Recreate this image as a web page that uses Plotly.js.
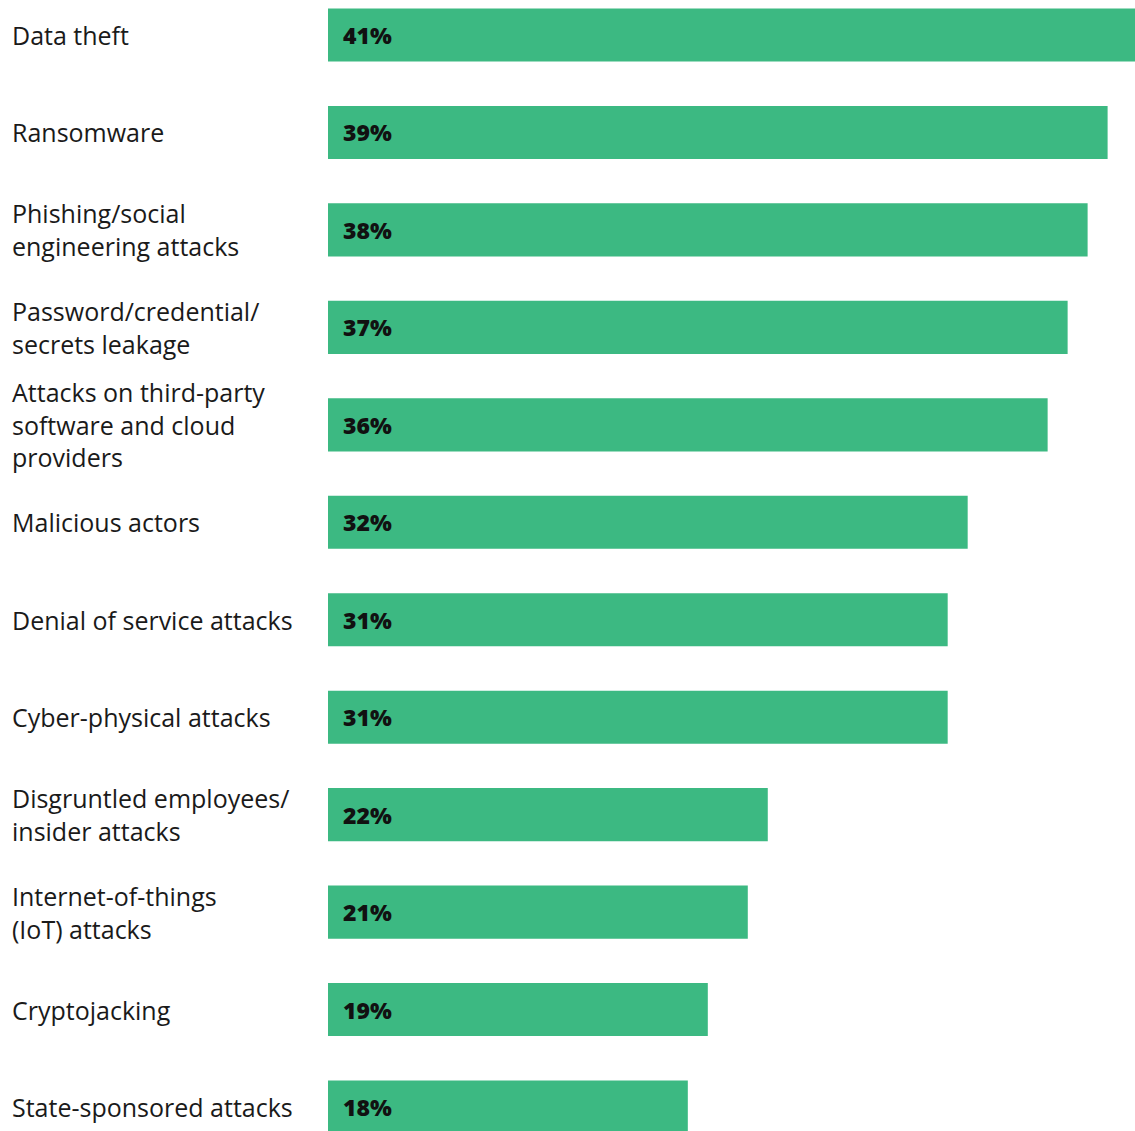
<!DOCTYPE html>
<html>
<head>
<meta charset="utf-8">
<script src="https://cdn.plot.ly/plotly-3.0.1.min.js"></script>
<style>html,body{margin:0;padding:0;background:#fff;}#chart{width:1135px;height:1131px;}</style>
</head>
<body>
<div id="chart"></div>
<script>
const categories = [
  "Data theft",
  "Ransomware",
  "Phishing/social<br>engineering attacks",
  "Password/credential/<br>secrets leakage",
  "Attacks on third-party<br>software and cloud<br>providers",
  "Malicious actors",
  "Denial of service attacks",
  "Cyber-physical attacks",
  "Disgruntled employees/<br>insider attacks",
  "Internet-of-things<br>(IoT) attacks",
  "Cryptojacking",
  "State-sponsored attacks"
];
const values = [41, 39, 38, 37, 36, 32, 31, 31, 22, 21, 19, 18];
const valueLabels = values.map(v => v + "%");

const idx = categories.map((_, i) => i);
const FONT = "'Open Sans', Lato, sans-serif";

const annotations = [];
categories.forEach((c, i) => {
  annotations.push({
    xref: 'paper', yref: 'y', x: 0, y: i, xshift: -318,
    xanchor: 'left', yanchor: 'middle', align: 'left',
    text: c, showarrow: false,
    font: {family: FONT, size: 25, color: '#1a1a1a'}
  });
  annotations.push({
    xref: 'x', yref: 'y', x: 0, y: i, xshift: 13,
    xanchor: 'left', yanchor: 'middle', align: 'left',
    text: valueLabels[i], showarrow: false,
    font: {family: FONT, size: 23, color: '#111111', weight: 800}
  });
});

const trace = {
  type: 'bar', orientation: 'h',
  x: values, y: idx,
  width: 0.545,
  marker: {color: '#3cb982', line: {width: 0}},
  hoverinfo: 'none'
};

const layout = {
  width: 1135, height: 1131,
  margin: {l: 328, r: 0, t: 0, b: 0, pad: 0},
  paper_bgcolor: '#ffffff', plot_bgcolor: '#ffffff',
  showlegend: false,
  xaxis: {range: [0, 40.37], visible: false, showgrid: false, zeroline: false, fixedrange: true},
  yaxis: {range: [11.246, -0.359], visible: false, showgrid: false, zeroline: false, fixedrange: true},
  annotations: annotations
};

Plotly.newPlot('chart', [trace], layout, {displayModeBar: false, staticPlot: true});
</script>
</body>
</html>
